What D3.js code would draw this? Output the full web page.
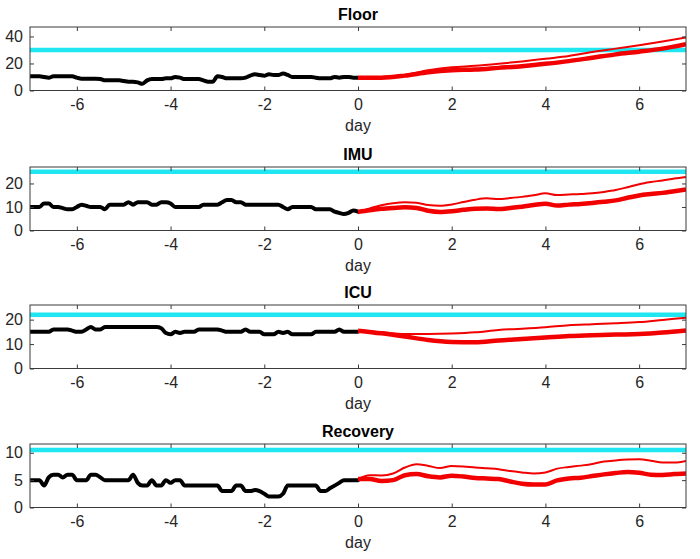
<!DOCTYPE html>
<html><head><meta charset="utf-8">
<script src="https://cdn.jsdelivr.net/npm/d3@7/dist/d3.min.js"></script>
<style>body{margin:0;background:#fff}svg{display:block}text{font-family:"Liberation Sans",Arial,Helvetica,sans-serif}</style>
</head><body><div id="chart"></div>
<script>
// ---------- DATA ----------
const panelTitles = ["Floor", "IMU", "ICU", "Recovery"];
const yMaxes = [47, 27, 26, 11.6];
const yTickValues = [[0, 20, 40], [0, 10, 20], [0, 10, 20], [0, 5, 10]];
const xTickValues = [-6, -4, -2, 0, 2, 4, 6];
const capacities = [30, 25, 22, 10.5];

const histDays = [-7.0,-6.9,-6.8,-6.7,-6.6,-6.5,-6.4,-6.3,-6.2,-6.1,
  -6.0,-5.9,-5.8,-5.7,-5.6,-5.5,-5.4,-5.3,-5.2,-5.1,
  -5.0,-4.9,-4.8,-4.7,-4.6,-4.5,-4.4,-4.3,-4.2,-4.1,
  -4.0,-3.9,-3.8,-3.7,-3.6,-3.5,-3.4,-3.3,-3.2,-3.1,
  -3.0,-2.9,-2.8,-2.7,-2.6,-2.5,-2.4,-2.3,-2.2,-2.1,
  -2.0,-1.9,-1.8,-1.7,-1.6,-1.5,-1.4,-1.3,-1.2,-1.1,
  -1.0,-0.9,-0.8,-0.7,-0.6,-0.5,-0.4,-0.3,-0.2,-0.1, 0.0];

const floorHist = [10.5,10.5,10.5,10,9.5,10.5,10.5,10.5,10.5,10.5,
  9.5,8.75,8.75,8.75,8.75,8.5,7.5,7.5,7.5,7.5,
  7,6.5,6.5,6,5,7.5,8.5,8.5,8.5,9,
  9,10,9.5,8.5,8.5,8.5,8.5,7.5,6.5,6.5,
  10.5,10,9,9,9,9,9.5,11,12,11.5,
  11,12,11.5,11.5,12.5,11.5,10,10,10,10,
  10,9.5,9,9,9,10,9.5,10,10,9.5, 9.5];
const imuHist = [10,10,10,11.5,11.5,10,10,9.5,9,9,
  10,11,10.5,10,10,10,9,11,11,11,
  11,12,11,12,12,12,11,11,12,12,
  11.5,10,10,10,10,10,10,11,11,11,
  11,12,13,13,12,12,11,11,11,11,
  11,11,11,11,10,9,10,10,10,10,
  10,9,9,9,9,8,7.5,7,7.5,8.5, 8];
const icuHist = [15,15,15,15,15,16,16,16,16,15.5,
  15,15,16,17,16,16,17,17,17,17,
  17,17,17,17,17,17,17,17,16.5,14.5,
  14,15,14.5,15,15,15,16,16,16,16,
  16,15.5,15,15,15,15,16,15,15,15,
  14,14,14,15,14.5,15,14,14,14,14,
  14,15,15,15,15,15,16,15,15,15, 15];
const recoveryHist = [5,5,5,4,5.5,6,6,5.5,6,6,
  5,5,5,6,6,5.5,5,5,5,5,
  5,5,6,4.5,4,4,5,4,4,5,
  4.5,5,5,4,4,4,4,4,4,4,
  4,3,3,3,4,4,3,3,3.2,3,
  2.5,2,2,2,2.5,4,4,4,4,4,
  4,4,3,3,3.5,4,4.5,5,5,5, 5];

const halfDays = [0,0.5,1,1.5,2,2.5,3,3.5,4,4.5,5,5.5,6,6.5,7];
const quarterDays = [0,0.25,0.5,0.75,1,1.25,1.5,1.75,2,2.25,2.5,2.75,3,3.25,3.5,3.75,
  4,4.25,4.5,4.75,5,5.25,5.5,5.75,6,6.25,6.5,6.75,7];

const floorThick = [9.5,9.5,11,13.5,15,15.5,16.75,18,19.75,21.75,24.25,26.75,28.75,31,34.25];
const floorThin  = [9.5,10,11.5,15,17.25,18.25,19.75,21.5,23.5,25.5,28.5,31,33.5,36.25,39.25];
const imuThick = [7.9,8.6,9.2,9.6,9.9,9.6,8.4,7.9,8.2,8.8,9.3,9.4,9.1,9.6,10.1,10.8,
  11.4,10.6,11.0,11.3,11.7,12.2,12.8,13.9,14.9,15.5,16.0,16.7,17.4];
const imuThin = [7.9,9.4,10.7,11.6,12.0,11.8,10.8,10.5,11.1,12.1,13.1,13.7,13.4,13.8,14.3,15.0,
  15.8,15.1,15.3,15.5,15.8,16.4,17.2,18.4,19.7,20.6,21.3,22.1,22.8];
const icuThick = [15.5,14.4,13.1,11.7,10.9,10.7,11.5,12.1,12.7,13.3,13.6,13.9,14.1,14.7,15.6];
const icuThin  = [15.5,14.8,14.1,14.1,14.3,14.8,15.8,16.3,16.9,17.7,18.1,18.5,19.0,19.9,20.8];
const recoveryThick = [5.2,5.2,4.85,5.0,5.9,6.1,5.7,5.5,5.8,5.65,5.4,5.3,5.2,4.75,4.35,4.2,
  4.2,4.95,5.3,5.45,5.75,6.05,6.3,6.5,6.35,6.0,5.95,6.1,6.2];
const recoveryThin = [5.2,5.9,5.85,6.2,7.3,7.9,7.6,7.2,7.6,7.5,7.3,7.15,7.0,6.65,6.4,6.2,
  6.4,7.1,7.4,7.65,7.95,8.4,8.6,8.75,8.8,8.55,8.2,8.2,8.5];

const histSeries = [floorHist, imuHist, icuHist, recoveryHist];
const fcDaysList = [halfDays, quarterDays, halfDays, quarterDays];
const thickSeries = [floorThick, imuThick, icuThick, recoveryThick];
const thinSeries = [floorThin, imuThin, icuThin, recoveryThin];

// ---------- LAYOUT ----------
const W = 700, H = 559;
const left = 30, right = 686;
const panelTops = [27, 167, 305, 444];
const panelH = 63.5;
const axisColor = "#3a3a3a";

const svg = d3.select("#chart").append("svg").attr("width", W).attr("height", H);
svg.append("rect").attr("width", W).attr("height", H).attr("fill", "#fff");

const x = d3.scaleLinear().domain([-7, 7]).range([left, right]);
const zip = (xs, ys) => xs.slice(0, Math.min(xs.length, ys.length)).map((d, i) => [d, ys[i]]);
const plainFmt = d => String(d);

panelTitles.forEach((title, p) => {
  const top = panelTops[p], bottom = top + panelH;
  const y = d3.scaleLinear().domain([0, yMaxes[p]]).range([bottom, top]);
  const g = svg.append("g");
  const clipId = "clip" + p;
  g.append("clipPath").attr("id", clipId).append("rect")
    .attr("x", left).attr("y", top).attr("width", right - left).attr("height", panelH);

  const line = d3.line().x(d => x(d[0])).y(d => y(d[1])).curve(d3.curveMonotoneX);
  const plot = g.append("g").attr("clip-path", `url(#${clipId})`);

  plot.append("path").datum([[-7, capacities[p]], [7, capacities[p]]])
    .attr("d", line).attr("fill", "none").attr("stroke", "#1fe6f0").attr("stroke-width", 4.5);
  plot.append("path").datum(zip(histDays, histSeries[p]))
    .attr("d", line).attr("fill", "none").attr("stroke", "#000").attr("stroke-width", 4)
    .attr("stroke-linejoin", "round").attr("stroke-linecap", "round");
  plot.append("path").datum(zip(fcDaysList[p], thinSeries[p]))
    .attr("d", line).attr("fill", "none").attr("stroke", "#f20000").attr("stroke-width", 2)
    .attr("stroke-linejoin", "round");
  plot.append("path").datum(zip(fcDaysList[p], thickSeries[p]))
    .attr("d", line).attr("fill", "none").attr("stroke", "#f20000").attr("stroke-width", 4.5)
    .attr("stroke-linejoin", "round");

  // axes (ticks inward on all sides)
  const xb = g.append("g").attr("transform", `translate(0,${bottom})`)
    .call(d3.axisBottom(x).tickValues(xTickValues).tickFormat(plainFmt).tickSizeInner(-4).tickSizeOuter(0).tickPadding(8));
  const xt = g.append("g").attr("transform", `translate(0,${top})`)
    .call(d3.axisTop(x).tickValues(xTickValues).tickSizeInner(-4).tickSizeOuter(0).tickFormat(""));
  const yl = g.append("g").attr("transform", `translate(${left},0)`)
    .call(d3.axisLeft(y).tickValues(yTickValues[p]).tickFormat(plainFmt).tickSizeInner(-4).tickSizeOuter(0).tickPadding(7));
  const yr = g.append("g").attr("transform", `translate(${right},0)`)
    .call(d3.axisRight(y).tickValues(yTickValues[p]).tickSizeInner(-4).tickSizeOuter(0).tickFormat(""));
  [xb, xt, yl, yr].forEach(a => {
    a.select(".domain").remove();
    a.selectAll("line").attr("stroke", axisColor);
    a.selectAll("text").attr("font-size", 16).attr("fill", "#262626")
      .attr("font-family", '"Liberation Sans",Arial,sans-serif');
  });
  g.append("rect").attr("x", left).attr("y", top).attr("width", right - left).attr("height", panelH)
    .attr("fill", "none").attr("stroke", axisColor).attr("stroke-width", 1);

  g.append("text").attr("x", (left + right) / 2).attr("y", top - 7)
    .attr("text-anchor", "middle").attr("font-size", 16).attr("font-weight", "bold")
    .attr("fill", "#000").text(title);
  g.append("text").attr("x", (left + right) / 2).attr("y", bottom + 40)
    .attr("text-anchor", "middle").attr("font-size", 16).attr("fill", "#262626").text("day");
});
</script></body></html>
